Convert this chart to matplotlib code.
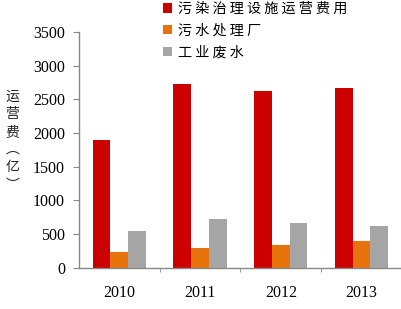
import matplotlib
matplotlib.use('Agg')
from matplotlib import pyplot as plt
import numpy as np

years = ['2010', '2011', '2012', '2013']
facility_cost = [1900, 2720, 2630, 2660]
sewage_plant = [240, 300, 340, 400]
industrial_water = [550, 730, 660, 620]
series_names = ['污染治理设施运营费用', '污水处理厂', '工业废水']
colors = ['#CC0000', '#E8730C', '#A5A5A5']

cjk = ['Noto Sans CJK SC', 'DejaVu Sans']
serif = 'Liberation Serif'

fig = plt.figure(figsize=(4.01, 3.09), dpi=100)
ax = fig.add_axes([0.197, 0.133, 0.805, 0.764])

x = np.arange(len(years))
width = 0.22
handles = []
for i, (vals, c) in enumerate(zip([facility_cost, sewage_plant, industrial_water], colors)):
    h = ax.bar(x + (i - 1) * width, vals, width, color=c, linewidth=0)
    handles.append(h)

ax.set_xlim(-0.5, len(years) - 0.5)
ax.set_ylim(0, 3500)
ax.set_yticks(np.arange(0, 3501, 500))
ax.set_xticks(x)
ax.set_xticklabels(years, fontfamily=serif, fontsize=11.5)
ax.set_xticks(np.arange(0.5, len(years) - 0.5, 1), minor=True)
ax.tick_params(axis='x', which='major', length=0, pad=12)
ax.tick_params(axis='x', which='minor', length=3, color='#888888')
ax.tick_params(axis='y', length=4, color='#888888', pad=6)
for lab in ax.get_yticklabels():
    lab.set_fontfamily(serif)
    lab.set_fontsize(11.5)

for s in ['top', 'right']:
    ax.spines[s].set_visible(False)
for s in ['left', 'bottom']:
    ax.spines[s].set_color('#888888')
    ax.spines[s].set_linewidth(1)

# y label, stacked vertically
fig.text(0.031, 0.545, '运\n营\n费\n︵\n亿\n︶', family=cjk, fontsize=10,
         ha='center', va='center', linespacing=1.33, color='#222222')

labels = [' '.join(n) for n in series_names]
leg = fig.legend(handles, labels, loc='upper left', bbox_to_anchor=(0.375, 1.035),
                 frameon=False, prop={'family': cjk, 'size': 10.2},
                 handlelength=0.62, handleheight=0.62, handletextpad=0.45,
                 labelspacing=0.55)

fig.savefig('out.png', dpi=100)
